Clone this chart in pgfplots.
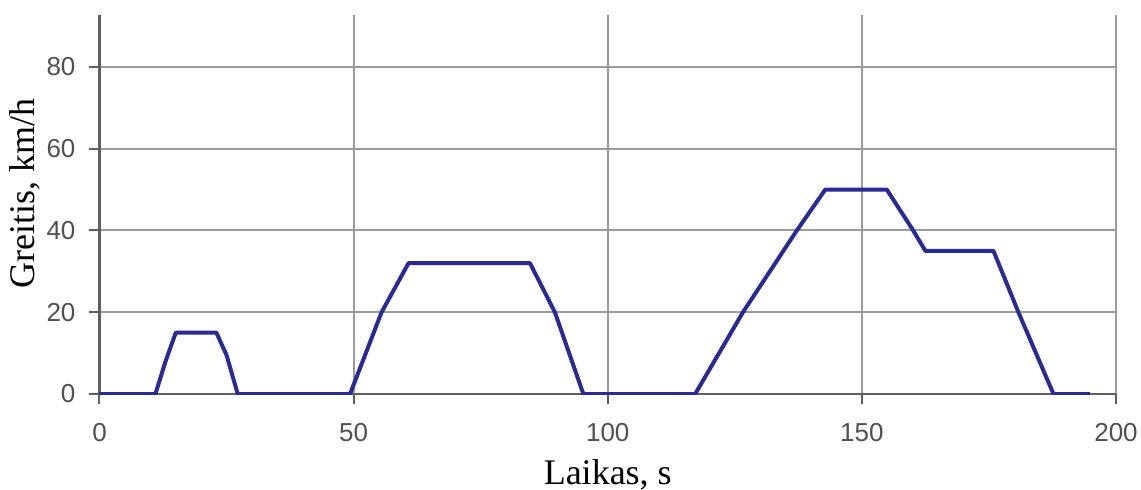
\documentclass[border=0pt]{standalone}
\usepackage{fontspec}
\setmainfont{Liberation Serif}
\newfontfamily\tickfont{Liberation Sans}
\usepackage{pgfplots}
\pgfplotsset{compat=1.18}
\definecolor{cline}{RGB}{42,42,150}
\definecolor{cgrid}{RGB}{155,155,155}
\definecolor{caxis}{RGB}{95,95,95}
\definecolor{ctick}{RGB}{80,80,80}
\begin{document}
\begin{tikzpicture}
\begin{axis}[
  scale only axis,
  width=508.25pt, height=189.5pt,
  xmin=0, xmax=200, ymin=0, ymax=92.7,
  xtick={0,50,100,150,200},
  ytick={0,20,40,60,80},
  axis x line*=bottom, axis y line*=left,
  axis line style={draw=caxis, line width=1.3pt},
  grid=major,
  major grid style={draw=cgrid, line width=1pt},
  tick align=outside,
  major tick length=5pt,
  tick style={draw=caxis, line width=1pt},
  /pgf/number format/assume math mode=true,
  tick label style={font=\tickfont\fontsize{13}{13}\selectfont, text=ctick},
  xticklabel style={yshift=-6pt},
  yticklabel style={xshift=-3.5pt},
  xlabel={Laikas, s},
  ylabel={Greitis, km/h},
  xlabel style={font=\fontsize{18}{18}\selectfont, at={(axis description cs:0.5,-0.2375)}, anchor=base},
  ylabel style={font=\fontsize{18}{18}\selectfont, at={(axis description cs:-0.0635,0.529)}, anchor=base},
]
\addplot[draw=cline, line width=2pt, line join=round] coordinates {
(0,0) (11,0) (13,8) (15,15) (23,15) (25,9.5) (27.2,0)
(49.3,0) (55.5,20) (60.8,32) (84.7,32) (89.6,20) (95.2,0)
(117.2,0) (126.6,20) (137.2,40) (142.8,50) (154.9,50) (160.1,40) (162.5,35)
(175.9,35) (180.8,20) (187.7,0) (194.9,0)
};
\end{axis}
\pgfresetboundingbox
\path ([shift={(-49.75pt,-47.5pt)}]current axis.south west) rectangle ([shift={(12.5pt,7.5pt)}]current axis.north east);
\end{tikzpicture}
\end{document}
